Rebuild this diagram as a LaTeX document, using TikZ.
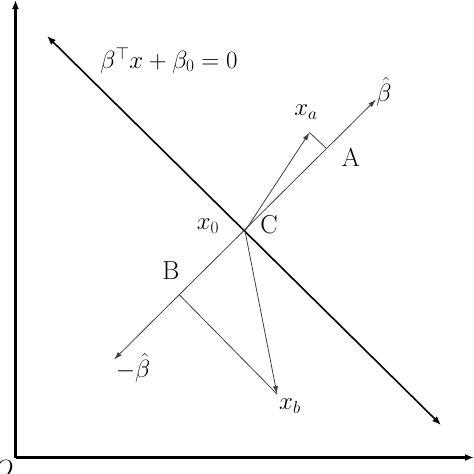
\documentclass[tikz,border=0pt]{standalone}
\usetikzlibrary{arrows.meta}
\begin{document}
\begin{tikzpicture}[x=1pt,y=-1pt,
  lbl/.style={inner sep=0pt,font=\fontsize{26}{30}\selectfont},
  axis/.style={line width=2.2pt,-{Latex[length=9pt,width=7pt]}},
  plane/.style={line width=1.6pt,{Latex[length=9pt,width=7pt]}-{Latex[length=9pt,width=7pt]}},
  thin/.style={line width=0.8pt,black!75},
  vec/.style={thin,-{Latex[length=8pt,width=5pt]}}]
\useasboundingbox (0,0) rectangle (474,474);
% axes
\coordinate (O) at (15.5,457.5);
\coordinate (ytop) at (15.5,0);
\coordinate (xright) at (474,457.5);
\draw[axis] (O) -- (ytop);
\draw[axis] (O) -- (xright);
\node[lbl] (Olab) at (4,469) {$O$};
% separating hyperplane
\coordinate (P1) at (47,36);
\coordinate (P2) at (441,425);
\draw[plane] (P1) -- (P2);
% beta direction
\coordinate (C) at (245,231);
\coordinate (bneg) at (114,359.5);
\coordinate (bpos) at (376,99.5);
\draw[thin,{Latex[length=8pt,width=5pt]}-{Latex[length=8pt,width=5pt]}] (bneg) -- (bpos);
% points
\coordinate (xa) at (309.5,132.5);
\coordinate (Af) at (326,148);
\coordinate (xb) at (277,394);
\coordinate (Bf) at (179.5,295);
\draw[vec] (C) -- (xa);
\draw[thin] (xa) -- (Af);
\draw[vec] (C) -- (xb);
\draw[thin] (Bf) -- (xb);
% labels
\node[lbl] (eq) at (169,60) {$\beta^\top x+\beta_0=0$};
\node[lbl] (bh) at (384,92) {$\hat\beta$};
\node[lbl] (xal) at (306,112) {$x_a$};
\node[lbl] (Al) at (351,157) {A};
\node[lbl] (Cl) at (269,225) {C};
\node[lbl] (x0l) at (208,226) {$x_0$};
\node[lbl] (Bl) at (171,271) {B};
\node[lbl] (nbh) at (133,368) {$-\hat\beta$};
\node[lbl] (xbl) at (290,406) {$x_b$};
\end{tikzpicture}
\end{document}
